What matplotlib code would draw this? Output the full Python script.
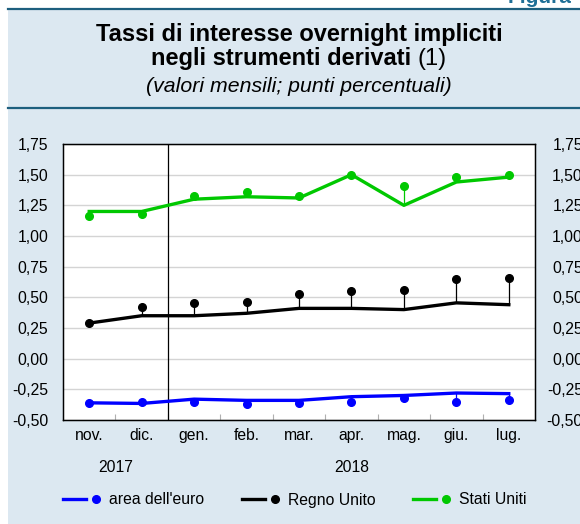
import matplotlib
matplotlib.use('Agg')
import matplotlib.pyplot as plt
import numpy as np
from matplotlib.lines import Line2D
from matplotlib.patches import Rectangle
from matplotlib.legend_handler import HandlerTuple
from matplotlib.ticker import FuncFormatter, FixedLocator

plt.rcParams['font.family'] = ['Liberation Sans', 'DejaVu Sans']

# DATI

mesi = ['nov.', 'dic.', 'gen.', 'feb.', 'mar.', 'apr.', 'mag.', 'giu.', 'lug.']
anni = ['2017', '2018']

euro_linea = [-0.36, -0.365, -0.33, -0.34, -0.34, -0.31, -0.30, -0.28, -0.285]
euro_punti = [-0.36, -0.35, -0.35, -0.37, -0.36, -0.355, -0.32, -0.35, -0.34]

uk_linea = [0.29, 0.35, 0.35, 0.37, 0.41, 0.41, 0.40, 0.455, 0.44]
uk_punti = [0.29, 0.42, 0.45, 0.46, 0.53, 0.55, 0.56, 0.65, 0.66]

us_linea = [1.20, 1.20, 1.30, 1.32, 1.31, 1.50, 1.25, 1.44, 1.48]
us_punti = [1.16, 1.18, 1.33, 1.36, 1.33, 1.50, 1.41, 1.48, 1.50]

serie = [
    ("area dell'euro", euro_linea, euro_punti, '#0000ff'),
    ('Regno Unito', uk_linea, uk_punti, '#000000'),
    ('Stati Uniti', us_linea, us_punti, '#00c800'),
]

W, H = 580, 524
sfondo = '#dce8f1'
blu_scuro = '#1d5f7e'
fs = 11.3

fig = plt.figure(figsize=(W/100, H/100), dpi=100)
fig.patch.set_facecolor(sfondo)

# cornice
fig.add_artist(Rectangle((0, 1-8/H), 1, 8/H, transform=fig.transFigure,
                         facecolor='white', edgecolor='none'))
fig.add_artist(Rectangle((0, 0), 8/W, 1, transform=fig.transFigure,
                         facecolor='white', edgecolor='none'))
fig.add_artist(Line2D([8/W, 1], [1-9/H, 1-9/H], transform=fig.transFigure,
                      color=blu_scuro, lw=1.6))
fig.add_artist(Line2D([8/W, 1], [1-108/H, 1-108/H], transform=fig.transFigure,
                      color=blu_scuro, lw=1.6))
fig.text(508/W, 1-3/H, 'Figura', color='#1f6f96', fontsize=15,
         fontweight='bold', va='baseline', ha='left')

# TITOLO
xc = 299/W
fig.text(xc, 1-41/H, 'Tassi di interesse overnight impliciti', ha='center',
         va='baseline', fontsize=17, fontweight='bold')
t_b = fig.text(0, 1-65/H, 'negli strumenti derivati ', ha='left',
               va='baseline', fontsize=17, fontweight='bold')
t_r = fig.text(0, 1-65/H, '(1)', ha='left', va='baseline', fontsize=17)
r = fig.canvas.get_renderer()
wb = t_b.get_window_extent(r).width
wr = t_r.get_window_extent(r).width
x0 = xc*W - (wb+wr)/2
t_b.set_x(x0/W)
t_r.set_x((x0+wb)/W)
fig.text(xc, 1-92/H, '(valori mensili; punti percentuali)', ha='center',
         va='baseline', fontsize=15.3, fontstyle='italic')

# GRAFICO
ax = fig.add_axes([63/W, (H-420)/H, 472/W, 276/H])
ax.set_facecolor('white')
x = np.arange(len(mesi))

for nome, linea, punti, col in serie:
    ax.vlines(x, linea, punti, color=col, lw=0.9, zorder=3)
    ax.plot(x, linea, color=col, lw=2.4, zorder=4)
    ax.plot(x, punti, 'o', color=col, ms=5.5, zorder=5)

ax.axvline(1.5, color='black', lw=0.9, zorder=2)

ax.set_xlim(-0.5, len(mesi)-0.5)
ax.set_ylim(-0.5, 1.75)
yt = np.arange(-0.5, 1.76, 0.25)
ax.set_yticks(yt)
fmt = FuncFormatter(lambda v, p: ('%.2f' % v).replace('.', ','))
ax.yaxis.set_major_formatter(fmt)
ax.grid(axis='y', color='#d4d4d4', lw=1, zorder=1)
ax.set_axisbelow(True)

ax.set_xticks(x)
ax.set_xticklabels(mesi)
ax.xaxis.set_minor_locator(FixedLocator(np.arange(0.5, len(mesi)-1, 1)))
ax.tick_params(axis='x', which='major', length=0, pad=6, labelsize=fs)
ax.tick_params(axis='x', which='minor', direction='in', length=4,
               color='#b0b0b0', width=0.8)
ax.tick_params(axis='y', length=0, pad=10.5, labelsize=fs)
for s in ax.spines.values():
    s.set_color('black')
    s.set_linewidth(1)

ax2 = ax.twinx()
ax2.set_ylim(ax.get_ylim())
ax2.set_yticks(yt)
ax2.yaxis.set_major_formatter(fmt)
ax2.tick_params(axis='y', length=0, pad=34.5, labelsize=fs)
for lab in ax2.get_yticklabels():
    lab.set_horizontalalignment('right')

# anni
trans = matplotlib.transforms.blended_transform_factory(ax.transData, fig.transFigure)
ax.text(0.5, 1-467/H, anni[0], transform=trans, ha='center', va='center',
        fontsize=fs)
ax.text(5, 1-467/H, anni[1], transform=trans, ha='center', va='center',
        fontsize=fs)

# LEGENDA
handles = []
labels = []
for nome, linea, punti, col in serie:
    l = Line2D([], [], color=col, lw=2.4)
    m = Line2D([], [], color=col, marker='o', ms=5.5, ls='none')
    handles.append((l, m))
    labels.append(nome)
fig.legend(handles, labels, loc='center', bbox_to_anchor=(295/W, 1-500/H),
           ncol=3, frameon=False, fontsize=fs, handlelength=2.82,
           handletextpad=0.1, columnspacing=2.4, borderpad=0,
           handler_map={tuple: HandlerTuple(ndivide=2, pad=-0.095)})

fig.savefig('out.png', dpi=100, facecolor=fig.get_facecolor())
